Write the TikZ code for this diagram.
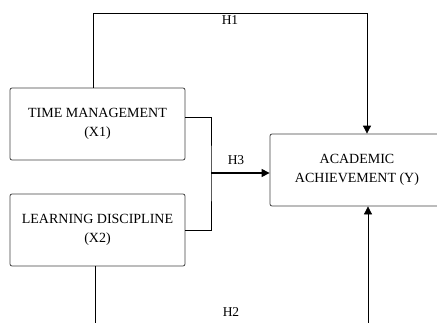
\documentclass[tikz,border=0pt]{standalone}
\usepackage{fontspec}
\setmainfont{Liberation Serif}
\usetikzlibrary{arrows.meta,calc}
\begin{document}
\begin{tikzpicture}[x=1pt,y=-1pt,
  box/.style={draw=black!75,line width=0.8pt,rounded corners=2pt,align=center,
    minimum width=175pt,minimum height=72pt,inner sep=0pt,
    font=\fontsize{14}{19}\selectfont},
  conn/.style={draw=black,line width=0.8pt},
  arr/.style={conn,-{Triangle[length=8pt,width=8pt]}},
  lbl/.style={font=\fontsize{13.5}{16}\selectfont,inner sep=0pt}]
\useasboundingbox (0,0) rectangle (437,322);
\clip (0,0) rectangle (437,322);
\node[box] (x1) at (97.5,124) {TIME MANAGEMENT\\(X1)};
\node[box] (x2) at (97.5,230) {LEARNING DISCIPLINE\\(X2)};
\node[box,minimum width=174pt] (y) at (357,170) {ACADEMIC\\ACHIEVEMENT (Y)};
\coordinate (h1l) at (93,13);
\coordinate (h1r) at (367,13);
\coordinate (j) at (211,173);
\coordinate (h2l) at (95,330);
\coordinate (h2r) at (368,330);
\draw[arr] (x1.north -| h1l) -- (h1l) -- (h1r) -- (y.north -| h1r);
\draw[conn] ($(x1.east)+(0,-7)$) -| (j) |- (x2.east);
\draw[arr,line width=1.1pt] (j) -- (y.west |- j);
\draw[conn] (x2.south -| h2l) -- (h2l);
\draw[arr] (h2r) -- (y.south -| h2r);
\node[lbl] (l1) at (230,20) {H1};
\node[lbl] (l3) at (236,160) {H3};
\node[lbl] (l2) at (231,312) {H2};
\end{tikzpicture}
\end{document}
